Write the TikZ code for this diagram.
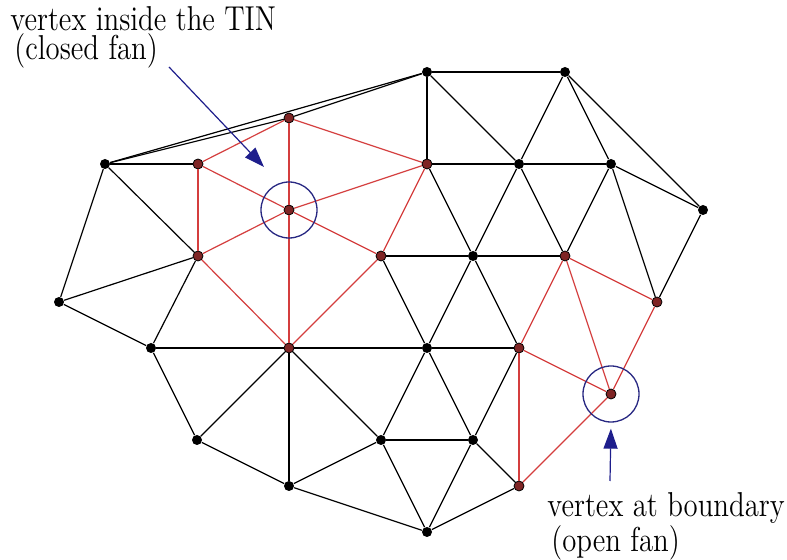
\documentclass[tikz,border=0pt]{standalone}
\definecolor{fanred}{RGB}{212,62,62}
\definecolor{navy}{RGB}{30,30,140}
\definecolor{markblue}{RGB}{40,40,130}
\usepackage{tikz}
\usetikzlibrary{arrows.meta}

\begin{document}
\begin{tikzpicture}[
    x=0.5pt, y=-0.5pt,
    vtx/.style={circle, fill=black, minimum size=5pt, inner sep=0},
    fanvtx/.style={vtx, draw=black, fill=fanred!60!black},
    edge/.style={black, line width=0.6pt},
    fanedge/.style={fanred, line width=0.6pt},
    ring/.style={circle, draw=markblue, line width=0.65pt, minimum size=28pt, inner sep=0},
    pointer/.style={-{Triangle[length=10pt, width=7pt]}, navy, line width=0.6pt},
    label/.style={font=\fontsize{14.4}{12}\selectfont, align=left, anchor=north west, inner sep=0, yscale=1.2}
]
  \useasboundingbox (0,0) rectangle (787,560);

  % Vertices
  \node[vtx] (A) at (105,164) {};
  \node[fanvtx] (B) at (198,164) {};
  \node[fanvtx] (C) at (289,118) {};
  \node[fanvtx] (D) at (289,210) {};
  \node[vtx] (E) at (427,72) {};
  \node[vtx] (F) at (565,72) {};
  \node[fanvtx] (G) at (427,164) {};
  \node[vtx] (H) at (519,164) {};
  \node[vtx] (I) at (611,164) {};
  \node[vtx] (J) at (703,210) {};
  \node[vtx] (K) at (59,302) {};
  \node[fanvtx] (L) at (198,256) {};
  \node[fanvtx] (M) at (381,256) {};
  \node[vtx] (N) at (473,256) {};
  \node[fanvtx] (O) at (565,256) {};
  \node[fanvtx] (P) at (657,302) {};
  \node[vtx] (Q) at (151,348) {};
  \node[fanvtx] (R) at (289,348) {};
  \node[vtx] (S) at (427,348) {};
  \node[fanvtx] (T) at (519,348) {};
  \node[fanvtx] (U) at (611,394) {};
  \node[vtx] (V) at (197,440) {};
  \node[vtx] (W) at (289,486) {};
  \node[vtx] (X) at (381,440) {};
  \node[vtx] (Y) at (473,440) {};
  \node[fanvtx] (Z) at (519,486) {};
  \node[vtx] (AA) at (427,532) {};

  % TIN edges
  \foreach \a/\b in {A/E, A/C, C/E, A/B, A/K, A/L, K/L, K/Q, L/Q, Q/R, Q/V,
                     R/V, V/W, R/W, R/X, W/X, W/AA, X/AA, X/Y, X/S, R/S, S/M,
                     S/N, S/T, S/Y, Y/T, Y/AA, Y/Z, Z/AA, M/N, N/G, N/H, N/O,
                     N/T, E/F, E/G, E/H, F/H, F/I, F/J, G/H, H/I, H/O, I/J,
                     I/O, I/P, J/P}{
    \draw[edge] (\a) -- (\b);
  }

  % Closed fan
  \foreach \b in {B,C,G,M,R,L}{
    \draw[fanedge] (D) -- (\b);
  }
  \foreach \a/\b in {B/C, C/G, G/M, M/R, R/L, L/B}{
    \draw[fanedge] (\a) -- (\b);
  }

  % Open fan
  \foreach \b in {O,P,T,Z}{
    \draw[fanedge] (U) -- (\b);
  }
  \foreach \a/\b in {O/P, O/T, T/Z}{
    \draw[fanedge] (\a) -- (\b);
  }

  % Marks
  \node[ring] (Dring) at (D) {};
  \node[ring] (Uring) at (U) {};

  % Labels
  \node[label] (inlabel) at (10,6) {vertex inside the TIN\\\hspace*{2pt}(closed fan)};
  \node[label] (bdlabel) at (547,492) {vertex at boundary\\\hspace*{2pt}(open fan)};

  \coordinate (instart) at (169,67);
  \coordinate (intip) at (264,167);
  \coordinate (bdstart) at (610,481);
  \draw[pointer] (instart) -- (intip);
  \draw[pointer, shorten >=3pt] (bdstart) -- (Uring.south);
\end{tikzpicture}
\end{document}
